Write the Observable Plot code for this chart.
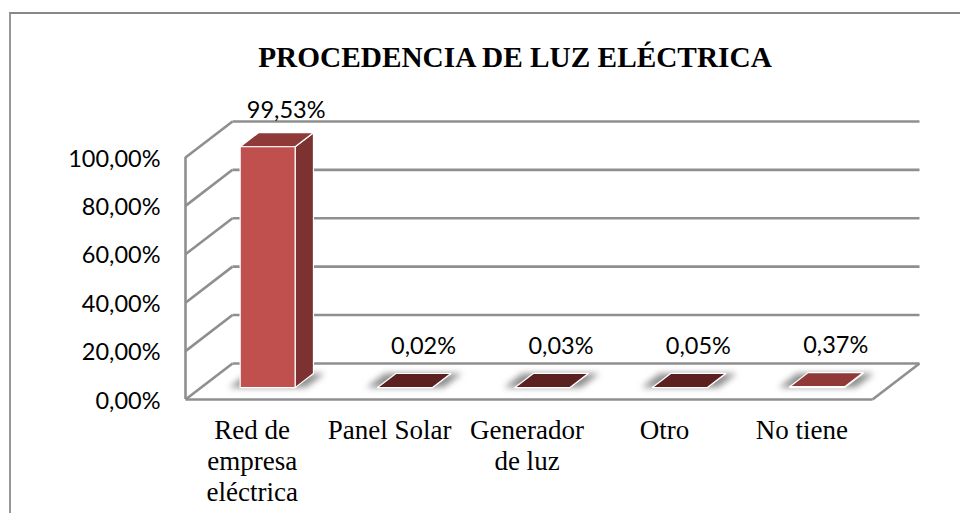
<!DOCTYPE html>
<html lang="es">
<head>
<meta charset="utf-8">
<script src="https://cdn.jsdelivr.net/npm/d3@7"></script>
<script src="https://cdn.jsdelivr.net/npm/@observablehq/plot@0.6"></script>
<style>
  html, body { margin: 0; padding: 0; background: #fff; overflow: hidden; }
  #page { position: relative; width: 960px; height: 513px; overflow: hidden; }
  #outer { position: absolute; left: 9px; top: 12px; width: 1000px; height: 600px;
           border-left: 2.5px solid #979797; border-top: 2.5px solid #878787; }
  #title { position: relative; height: 80px; box-sizing: border-box; padding-top: 41px; padding-left: 70px;
           text-align: center; font: bold 29.3px/32px "Liberation Serif", serif; color: #000; white-space: nowrap; }
  #chart svg { display: block; }
</style>
</head>
<body>
<div id="page">
  <div id="outer"></div>
  <div id="title">PROCEDENCIA DE LUZ ELÉCTRICA</div>
  <div id="chart"></div>
</div>
<script>
const categories = ["Red de\nempresa\neléctrica", "Panel Solar", "Generador\nde luz", "Otro", "No tiene"];
const values = [99.53, 0.02, 0.03, 0.05, 0.37];
const valueLabels = ["99,53%", "0,02%", "0,03%", "0,05%", "0,37%"];
const gridValues = [0, 20, 40, 60, 80, 100];

// Oblique projection of the chart's depth axis, in data units
const DX = 0.342, DY = 14.9;
const D0 = 0.33, D1 = 0.72, HALF = 0.2, SHIFT = 0.015;
const P = (c, v, d) => ({x: c + d * DX, y: v + d * DY});

const faces = [], shadows = [];
const poly = (list, id, fill, pts) => pts.concat(pts[0]).forEach(p => list.push({...p, id, fill}));
values.forEach((v, i) => {
  const a = i + 0.5 - HALF - SHIFT, b = i + 0.5 + HALF - SHIFT, e = 0.08;
  poly(shadows, "s" + i, "#8f8f8f", [P(a - e, 0, D0), P(b + e, 0, D0), P(b + e, 0, D1), P(a - e, 0, D1)]);
  poly(faces, "side" + i, "#7b3230", [P(b, 0, D0), P(b, 0, D1), P(b, v, D1), P(b, v, D0)]);
  poly(faces, "top" + i, v < 0.1 ? "#5a2120" : "#8f3a38", [P(a, v, D0), P(b, v, D0), P(b, v, D1), P(a, v, D1)]);
  poly(faces, "front" + i, "#c0504d", [P(a, 0, D0), P(b, 0, D0), P(b, v, D0), P(a, v, D0)]);
});

const nCat = categories.length;
const backGrid = gridValues.map(v => ({x1: P(0, v, 1).x, x2: P(nCat, v, 1).x, y: P(0, v, 1).y}));
const sideGrid = gridValues.map(v => ({x1: 0, y1: v, x2: P(0, v, 1).x, y2: P(0, v, 1).y}));
const labelRows = values.map((v, i) => ({...P(i + 0.5, v, 0.68), label: valueLabels[i], v, yy: P(i + 0.5, v, D1).y}));
const catRows = categories.map((c, i) => ({x: i + 0.5, c}));
const gridColor = "#8f8f8f";
const tallBar = d => d.v > 50;

const chart = Plot.plot({
  width: 960, height: 433,
  marginLeft: 185, marginRight: 88, marginTop: 77, marginBottom: 114,
  x: {domain: [0, nCat], axis: null},
  y: {domain: [0, 100], axis: null},
  color: {type: "identity"},
  style: {background: "transparent", overflow: "visible"},
  marks: [
    Plot.link(backGrid, {x1: "x1", x2: "x2", y1: "y", y2: "y", stroke: gridColor, strokeWidth: 2.6}),
    Plot.link(sideGrid, {x1: "x1", y1: "y1", x2: "x2", y2: "y2", stroke: gridColor, strokeWidth: 2.6}),
    Plot.link([{x1: 0, y1: 0, x2: nCat, y2: 0}, {x1: nCat, y1: 0, x2: P(nCat, 0, 1).x, y2: P(nCat, 0, 1).y}],
      {x1: "x1", y1: "y1", x2: "x2", y2: "y2", stroke: gridColor, strokeWidth: 2.6}),
    Plot.ruleX([0], {y1: 0, y2: 100, stroke: gridColor, strokeWidth: 2.6}),
    Plot.line(shadows, {x: "x", y: "y", z: "id", fill: "fill", stroke: "none", imageFilter: "blur(3px)"}),
    Plot.line(faces, {x: "x", y: "y", z: "id", fill: "fill", stroke: "#fff", strokeWidth: 1.2}),
    Plot.axisY({
      ticks: gridValues, tickSize: 0, tickPadding: 25, label: null, dy: 1.5,
      tickFormat: d => d.toFixed(2).replace(".", ",") + "%",
      fontSize: 23.5, fontFamily: "Lato", fill: "#000"
    }),
    Plot.text(labelRows.filter(tallBar), {x: "x", y: "yy", text: "label", dy: -22, fontSize: 23.5, fontFamily: "Lato", fill: "#000"}),
    Plot.text(labelRows.filter(d => !tallBar(d)), {x: "x", y: "yy", text: "label", dy: -27, fontSize: 23.5, fontFamily: "Lato", fill: "#000"}),
    Plot.text(catRows, {x: "x", y: 0, text: "c", lineAnchor: "top", dy: 17, dx: -2, fontSize: 27,
      lineHeight: 1.16, fontFamily: "Liberation Serif", fill: "#000"})
  ]
});
document.getElementById("chart").append(chart);
</script>
</body>
</html>
